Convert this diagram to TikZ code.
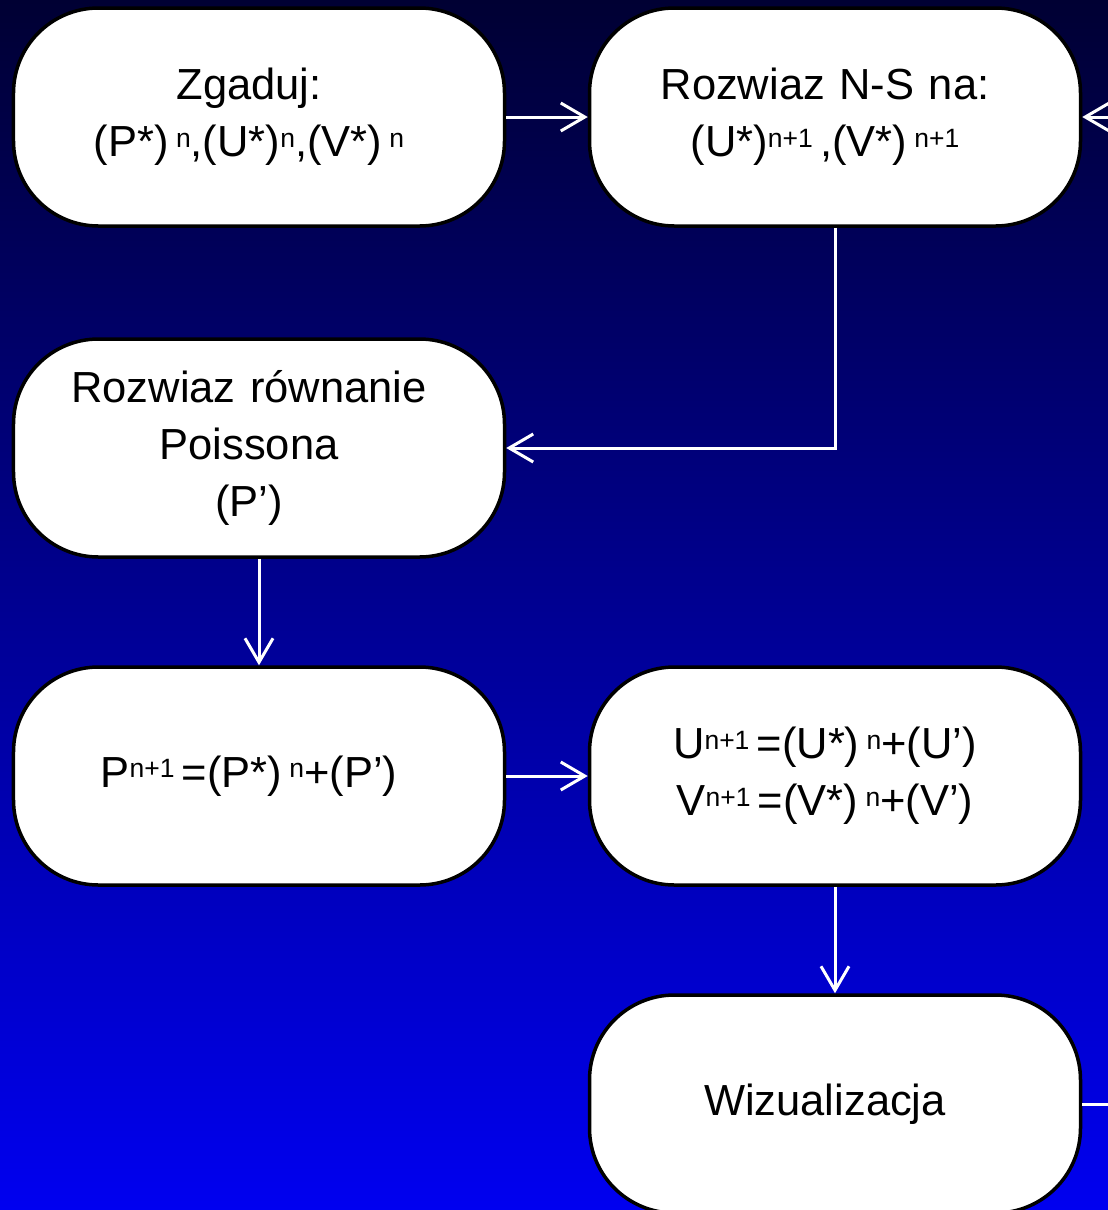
\documentclass[tikz,border=0pt]{standalone}
\usepackage{fontspec}
\setmainfont{Liberation Sans}
\usetikzlibrary{arrows.meta}
\newcommand{\up}[1]{\raisebox{9.5bp}{\fontsize{26.5bp}{26.5bp}\selectfont #1}}
\begin{document}
\begin{tikzpicture}[x=1bp, y=-1bp,
	every node/.style={rectangle, rounded corners=85bp, draw=black, line width=3.5bp, fill=white,
		minimum width=491bp, minimum height=218bp, text width=440bp, align=center,
		font=\fontsize{43.5bp}{57bp}\selectfont,
		execute at begin node={\leftskip=0pt plus 1fil\rightskip=20bp plus 1fil\parfillskip=0pt}},
	conn/.style={draw=white, line width=3bp, -{Straight Barb[length=24bp, width=28bp, line width=3bp]}}]
	\clip (0,0) rectangle (1108,1210);
	\shade[top color={rgb,255:red,0;green,0;blue,51}, bottom color={rgb,255:red,0;green,0;blue,240}] (0,0) rectangle (1108,1210);
	\node(Z) at (259, 117) {Zgaduj:\\(P*)\,\up{n},(U*)\up{n},(V*)\,\up{n}};
	\node(NS) at (835, 117) {Rozwiaz N-S na:\\(U*)\up{n+1}\,,(V*)\,\up{n+1}};
	\node(PO) at (259, 448) {Rozwiaz równanie\\Poissona\\(P’)};
	\node(P) at (259, 776) {P\up{n+1}\,=(P*)\,\up{n}+(P’)};
	\node(UV) at (835, 776) {U\up{n+1}\,=(U*)\,\up{n}+(U’)\\V\up{n+1}\,=(V*)\,\up{n}+(V’)};
	\node(W) at (835, 1104) {Wizualizacja};
	\draw[conn] (Z) -- (NS);
	\draw[conn] (NS) |- (PO);
	\draw[conn] (PO) -- (P);
	\draw[conn] (P) -- (UV);
	\draw[conn] (UV) -- (W);
	\draw[conn] (W.east) -- ++(40,0) |- (NS.east);
\end{tikzpicture}
\end{document}
